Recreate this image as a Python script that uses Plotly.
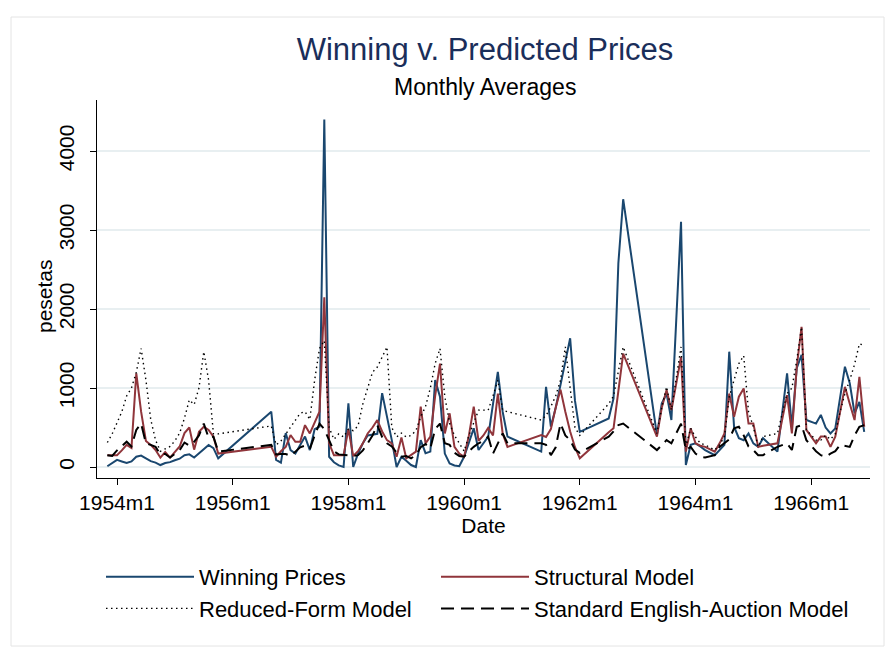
import plotly.graph_objects as go

# months since 1954m1 (Stata %tm style)
months = [-2, -1, 0, 1, 2, 3, 4, 5, 6, 7, 8, 9, 10, 11, 12, 13, 14, 15, 16, 17, 18, 19, 20, 21,
          32, 33, 34, 35, 36, 37, 38, 39, 40, 41, 42, 43, 44, 45, 46, 47, 48, 49, 50, 51, 52, 53, 54, 55, 56, 57, 58,
          59, 60, 61, 62, 63, 64, 65, 66, 67, 68, 69, 70, 71, 72, 73, 74, 75, 76, 77, 78, 79, 80, 81,
          88, 89, 90, 91, 92, 93, 94, 95, 96, 102, 103, 104, 105,
          112, 113, 114, 115, 117, 118, 119, 120, 121, 122, 124, 125, 126, 127, 128, 129, 130, 131, 132, 133, 134, 137,
          139, 140, 141, 142, 143, 145, 146, 147, 148, 149, 150, 151, 152, 153, 154, 155]

winning = [10, 55, 90, 70, 50, 70, 130, 145, 110, 75, 55, 25, 50, 62, 85, 105, 150, 160, 120, 175, 230, 280, 240, 110,
           700, 90, 55, 430, 215, 170, 280, 385, 215, 480, 510, 4400, 130, 60, 20, 0, 805, 0, 170, 300, 400, 410, 420, 935, 640, 340, 0,
           130, 80, 25, 0, 340, 175, 195, 1100, 890, 170, 45, 20, 10, 130, 300, 490, 215, 300, 385, 800, 1205, 700, 385,
           195, 1015, 510, 750, 1040, 1350, 1630, 840, 445, 615, 870, 2580, 3390,
           405, 805, 930, 595, 3105, 25, 280, 300, 260, 215, 150, 215, 280, 1460, 510, 365, 340, 425, 300, 255, 365, 195,
           1185, 510, 1250, 1420, 595, 550, 660, 500, 425, 490, 900, 1270, 1060, 680, 825, 445]

structural = [150, 150, 150, 210, 280, 240, 1185, 700, 330, 280, 215, 120, 190, 120, 190, 260, 430, 500, 220, 445, 510, 470, 385, 170,
              255, 130, 200, 255, 405, 320, 320, 530, 425, 560, 700, 2150, 300, 150, 150, 150, 480, 140, 200, 300, 425, 500, 595, 450, 340, 300, 130,
              375, 110, 150, 195, 765, 300, 385, 900, 1310, 425, 680, 255, 170, 130, 400, 765, 330, 400, 495, 400, 930, 425, 255,
              405, 380, 480, 750, 980, 700, 450, 250, 110, 440, 490, 960, 1435,
              385, 750, 975, 720, 1390, 195, 490, 300, 270, 255, 195, 300, 425, 930, 635, 890, 995, 550, 550, 255, 270, 300,
              910, 425, 1265, 1775, 470, 300, 385, 385, 255, 385, 700, 1015, 800, 595, 1140, 510]

reduced_form = [310, 420, 560, 700, 900, 1000, 1200, 1500, 1100, 600, 340, 200, 230, 260, 330, 430, 620, 850, 790, 1000, 1460, 1100, 420, 420,
                520, 280, 330, 420, 500, 600, 680, 700, 600, 1100, 1500, 1600, 500, 350, 420, 380, 480, 460, 520, 800, 1015, 1200, 1265, 1400, 1520, 500, 380,
                430, 380, 400, 460, 635, 765, 1000, 1310, 1500, 890, 550, 400, 300, 200, 400, 550, 720, 720, 720, 900, 1100, 720, 700,
                595, 650, 765, 900, 1100, 1520, 1000, 500, 400, 800, 900, 1200, 1520,
                425, 750, 1015, 720, 1520, 255, 490, 380, 300, 280, 215, 280, 385, 890, 1100, 1310, 1410, 700, 510, 255, 385, 425,
                930, 1000, 1350, 1770, 470, 340, 340, 400, 350, 420, 700, 930, 1100, 1300, 1560, 1540]

english_auction = [150, 140, 210, 270, 320, 260, 470, 550, 300, 280, 255, 160, 165, 120, 170, 215, 310, 270, 320, 400, 550, 370, 385, 195,
                   280, 160, 165, 165, 140, 190, 250, 270, 230, 400, 550, 480, 330, 200, 160, 155, 150, 140, 150, 210, 300, 400, 530, 380, 300, 260, 180,
                   130, 140, 110, 150, 250, 290, 235, 480, 550, 300, 280, 180, 140, 130, 200, 255, 300, 330, 385, 170, 300, 425, 300,
                   300, 280, 150, 250, 550, 400, 340, 220, 180, 385, 450, 530, 550,
                   215, 280, 340, 300, 550, 215, 255, 170, 130, 120, 150, 255, 300, 350, 490, 510, 400, 260, 215, 150, 150, 255,
                   300, 215, 510, 530, 340, 200, 150, 130, 170, 200, 280, 270, 255, 400, 510, 530]

tick_vals = [0, 24, 48, 72, 96, 120, 144]
tick_text = ["1954m1", "1956m1", "1958m1", "1960m1", "1962m1", "1964m1", "1966m1"]
y_ticks = [0, 1000, 2000, 3000, 4000]

FONT = "Liberation Sans, Arial, Helvetica, sans-serif"
NAVY = "#1a476f"
MAROON = "#90353b"

# plot-area pixel geometry
L, R, T, B = 97, 870, 100, 478
PW, PH = R - L, B - T


def px_x(p):
    return (p - L) / PW


def px_y(p):
    return (B - p) / PH


fig = go.Figure()
fig.add_trace(go.Scatter(x=months, y=winning, mode="lines", name="Winning Prices",
                         line=dict(color=NAVY, width=2), legend="legend"))
fig.add_trace(go.Scatter(x=months, y=structural, mode="lines", name="Structural Model",
                         line=dict(color=MAROON, width=2), legend="legend2"))
fig.add_trace(go.Scatter(x=months, y=reduced_form, mode="lines", name="Reduced-Form Model",
                         line=dict(color="black", width=1.4, dash="1.5px,3.5px"), legend="legend"))
fig.add_trace(go.Scatter(x=months, y=english_auction, mode="lines", name="Standard English-Auction Model",
                         line=dict(color="black", width=2, dash="13px,7px"), legend="legend2"))

leg_common = dict(orientation="v", yanchor="top", itemwidth=88, tracegroupgap=0,
                  bgcolor="rgba(0,0,0,0)", font=dict(family=FONT, size=22, color="black"))

fig.update_layout(
    width=886, height=651,
    margin=dict(l=L, r=886 - R, t=T, b=651 - B),
    paper_bgcolor="white", plot_bgcolor="white",
    font=dict(family=FONT, size=21, color="black"),
    title=dict(text="Winning v. Predicted Prices",
               x=485 / 886, xanchor="center", xref="container",
               y=1 - 38 / 651, yanchor="top", yref="container",
               font=dict(family=FONT, size=31, color="#1a2e5a")),
    annotations=[
        dict(text="Monthly Averages", xref="paper", yref="paper",
             x=px_x(485), y=px_y(87), xanchor="center", yanchor="middle",
             showarrow=False, font=dict(family=FONT, size=23, color="black")),
        dict(text="pesetas", xref="paper", yref="paper", textangle=-90,
             x=px_x(44), y=px_y(296), xanchor="center", yanchor="middle",
             showarrow=False, font=dict(family=FONT, size=21, color="black")),
    ],
    showlegend=True,
    legend=dict(x=px_x(101), xanchor="left", y=px_y(556), **leg_common),
    legend2=dict(x=px_x(436), xanchor="left", y=px_y(556), **leg_common),
    xaxis=dict(range=[-4.15, 156.2], tickmode="array", tickvals=tick_vals, ticktext=tick_text,
               showline=True, linecolor="black", linewidth=1, ticks="outside", ticklen=6,
               tickcolor="black", showgrid=False, zeroline=False,
               tickfont=dict(size=21), title=dict(text="Date", font=dict(size=21), standoff=4)),
    yaxis=dict(range=[-139, 4646], tickmode="array", tickvals=y_ticks,
               showline=True, linecolor="black", linewidth=1, ticks="outside", ticklen=6,
               tickcolor="black", showgrid=True, gridcolor="#e8eff1", gridwidth=1.5, zeroline=False,
               tickangle=-90, tickfont=dict(size=21), ticklabelstandoff=8),
)

fig.add_shape(type="rect", xref="paper", yref="paper", x0=px_x(11), x1=px_x(884), y0=px_y(646), y1=px_y(17),
              line=dict(color="#e4e4e4", width=1), fillcolor="rgba(0,0,0,0)", layer="below")

fig.write_html("out.html", post_script="document.body.style.margin='0';",
               config={"displayModeBar": False})
